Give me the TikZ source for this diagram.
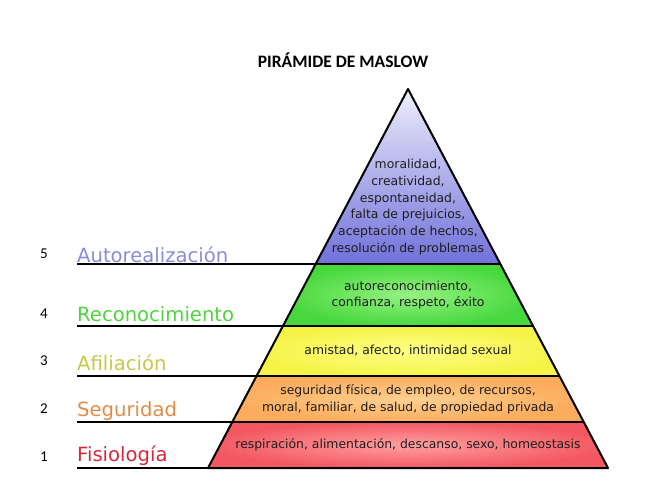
\documentclass[tikz,border=0pt]{standalone}
\usepackage{fontspec}
\setmainfont{DejaVu Sans}
\newfontfamily\calfont{Carlito}
\usetikzlibrary{calc}
\definecolor{autortop}{RGB}{238,238,252}
\definecolor{autorbot}{RGB}{112,112,218}
\definecolor{autorname}{RGB}{140,140,212}
\definecolor{reconin}{RGB}{150,242,130}
\definecolor{reconout}{RGB}{72,216,62}
\definecolor{reconname}{RGB}{78,212,60}
\definecolor{afilin}{RGB}{255,255,135}
\definecolor{afilout}{RGB}{245,243,72}
\definecolor{afilname}{RGB}{200,200,70}
\definecolor{segurin}{RGB}{255,208,145}
\definecolor{segurout}{RGB}{252,172,92}
\definecolor{segurname}{RGB}{225,140,70}
\definecolor{fisioin}{RGB}{255,160,160}
\definecolor{fisioout}{RGB}{243,88,98}
\definecolor{fisioname}{RGB}{212,40,60}
\definecolor{pyrtext}{RGB}{30,30,30}

\begin{document}
\begin{tikzpicture}[x=1pt, y=-1pt,
      ttl/.style={font=\calfont\bfseries\fontsize{17.5}{20}\selectfont},
      lvlnum/.style={font=\calfont\fontsize{15}{17}\selectfont,
                     anchor=base, inner sep=0pt},
      lvlname/.style={font=\fontsize{19.6}{23}\selectfont,
                      anchor=base west, inner sep=0pt},
      pyrtxt/.style={font=\fontsize{12.4}{16.8}\selectfont,
                     align=center, text=pyrtext, inner sep=0pt},
      pyrline/.style={line width=2pt, line join=round},
      tieline/.style={line width=1.5pt},
    ]
    \useasboundingbox (0,0) rectangle (655,481);
    %% pyramid corners
    \coordinate (apex) at (408,89);
    \coordinate (bl) at (208,468);
    \coordinate (br) at (608,468);
    %% level borders on both sides
    \foreach \k/\t in {1/1, 2/0.8786, 3/0.7573, 4/0.6253, 5/0.4617}{
      \coordinate (L\k) at ($(apex)!\t!(bl)$);
      \coordinate (R\k) at ($(apex)!\t!(br)$);
      \coordinate (s\k) at (77,0 |- L\k);
    }
    %% band fills
    \shade[top color=autortop, bottom color=autorbot] (apex) -- (L5) -- (R5) -- cycle;
    \shade[inner color=reconin, outer color=reconout] (L5) -- (R5) -- (R4) -- (L4) -- cycle;
    \shade[inner color=afilin, outer color=afilout] (L4) -- (R4) -- (R3) -- (L3) -- cycle;
    \shade[inner color=segurin, outer color=segurout] (L3) -- (R3) -- (R2) -- (L2) -- cycle;
    \shade[inner color=fisioin, outer color=fisioout] (L2) -- (R2) -- (R1) -- (L1) -- cycle;
    %% outline and band borders
    \draw[pyrline] (apex) -- (bl) -- (br) -- cycle;
    \foreach \k in {2,...,5}{
      \draw[pyrline] (L\k) -- (R\k);
    }
    %% lines out to the level names
    \foreach \k in {1,...,5}{
      \draw[tieline] (s\k) -- (L\k);
    }
    %% title
    \node[ttl] (title) at (343,60) {PIRÁMIDE DE MASLOW};
    %% numbers
    \node[lvlnum] (num5) at (44,258) {5};
    \node[lvlnum] (num4) at (44,318) {4};
    \node[lvlnum] (num3) at (44,365) {3};
    \node[lvlnum] (num2) at (44,413) {2};
    \node[lvlnum] (num1) at (44,461) {1};
    %% level names
    \node[lvlname, text=autorname] (lbl5) at (77,262) {Autorealización};
    \node[lvlname, text=reconname] (lbl4) at (77,321) {Reconocimiento};
    \node[lvlname, text=afilname] (lbl3) at (77,370) {Afiliación};
    \node[lvlname, text=segurname] (lbl2) at (77,416) {Seguridad};
    \node[lvlname, text=fisioname] (lbl1) at (77,461) {Fisiología};
    %% band texts
    \node[pyrtxt] (txt5) at (408,207) {moralidad,\\creatividad,\\espontaneidad,\\falta de prejuicios,\\aceptación de hechos,\\resolución de problemas};
    \node[pyrtxt] (txt4) at (408,295) {autoreconocimiento,\\confianza, respeto, éxito};
    \node[pyrtxt] (txt3) at (408,351) {amistad, afecto, intimidad sexual};
    \node[pyrtxt] (txt2) at (408,399) {seguridad física, de empleo, de recursos,\\moral, familiar, de salud, de propiedad privada};
    \node[pyrtxt] (txt1) at (408,445) {respiración, alimentación, descanso, sexo, homeostasis};
    \end{tikzpicture}
\end{document}
